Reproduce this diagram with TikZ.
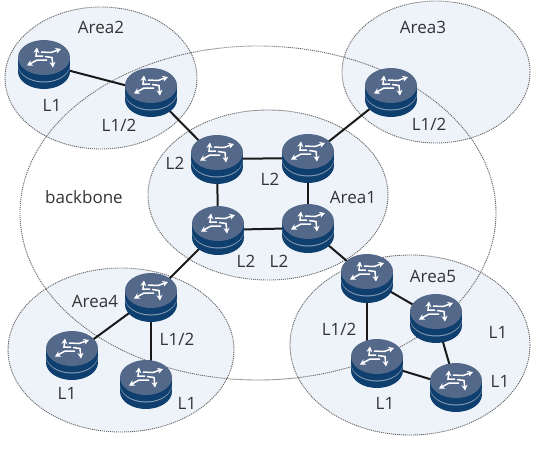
\documentclass[tikz,border=0pt]{standalone}
\usepackage{fontspec}
\setmainfont{Open Sans}
\usetikzlibrary{arrows.meta}
\definecolor{areafill}{HTML}{EEF3FA}
\definecolor{dots}{HTML}{666666}
\definecolor{rtop}{HTML}{54698A}
\definecolor{rbody}{HTML}{0F3F6E}
\definecolor{rband}{HTML}{8FA3BA}
\definecolor{txt}{HTML}{333333}
\tikzset{
  area/.style={draw=dots,line width=0.9pt,dash pattern=on 1.1pt off 0.9pt,fill=areafill},
  bb/.style={draw=dots,line width=0.9pt,dash pattern=on 1.1pt off 0.9pt},
  link/.style={draw=black!90,line width=2pt},
  lab/.style={text=txt,font=\fontsize{17pt}{20pt}\selectfont,inner sep=0pt},
  arr/.style={draw=white,line width=1.5pt,-{Stealth[length=5.5pt,width=6pt]}},
  router/.pic={
    \fill[rbody] (0,7.5) ellipse[x radius=26,y radius=17.5];
    \fill[rbody] (-26,-6.5) rectangle (26,7.5);
    \fill[rband] (0,1) ellipse[x radius=26,y radius=17.5];
    \fill[rbody] (-26,-6.5) rectangle (26,0);
    \fill[rbody] (0,0) ellipse[x radius=26,y radius=17.5];
    \fill[rtop] (0,-6.5) ellipse[x radius=26,y radius=17.5];
    \begin{scope}[shift={(0,-6.5)}]
      \draw[arr] (-1,-1.5) -- (-8,-1.5) -- (-7,-10);
      \draw[arr] (-3,-5.5) -- (7,-5) -- (17,-8.5);
      \draw[arr] (3,2.5) -- (-7,2.5) -- (-17,8);
      \draw[arr] (1,-1) -- (8,0) -- (9,10);
    \end{scope}
  }
}
\begin{document}
\begin{tikzpicture}[x=1pt,y=-1pt]
\useasboundingbox (0,0) rectangle (548,450);
\fill[white] (0,0) rectangle (548,450);
\path[area] (101,78) ellipse[x radius=96,y radius=71];
\path[area] (436,72) ellipse[x radius=94,y radius=71];
\path[area] (121,350) ellipse[x radius=113,y radius=82];
\path[area] (410,345) ellipse[x radius=120,y radius=90];
\path[area] (268,195) ellipse[x radius=120,y radius=85];
\path[bb] (258,213) ellipse[x radius=238,y radius=167];
\coordinate (a2a) at (44,64);
\coordinate (a2b) at (151,92);
\coordinate (tl) at (217,159);
\coordinate (tr) at (308,158);
\coordinate (bl) at (218,230);
\coordinate (br) at (308,228);
\coordinate (a3) at (391,92);
\coordinate (a4t) at (151,297);
\coordinate (a4l) at (72,355);
\coordinate (a4r) at (146,384);
\coordinate (a5t) at (367,278);
\coordinate (a5r) at (436,318);
\coordinate (a5l) at (377,363);
\coordinate (a5b) at (456,387);
\foreach \p/\q in {a2a/a2b,a2b/tl,tl/tr,tl/bl,tr/br,bl/br,tr/a3,bl/a4t,br/a5t,a4t/a4l,a5t/a5r,a5r/a5b,a5l/a5b}
  \draw[link] (\p) -- (\q);
\draw[link] (a4t) -- (a4t |- a4r);
\draw[link] (a5t) -- (a5t |- a5l);
\foreach \p in {a2a,a2b,tl,tr,bl,br,a3,a4t,a4l,a4r,a5t,a5r,a5l,a5b}
  \pic at (\p) {router};
\node[lab] (t1) at (101,27) {Area2};
\node[lab] (t2) at (52,105) {L1};
\node[lab] (t3) at (119,125) {L1/2};
\node[lab] (t4) at (423,27) {Area3};
\node[lab] (t5) at (429,124) {L1/2};
\node[lab] (t6) at (175,163) {L2};
\node[lab] (t7) at (270,179) {L2};
\node[lab] (t8) at (353,197) {Area1};
\node[lab] (t9) at (84,197) {backbone};
\node[lab] (t10) at (246,261) {L2};
\node[lab] (t11) at (279,261) {L2};
\node[lab] (t12) at (433,276) {Area5};
\node[lab] (t13) at (339,329) {L1/2};
\node[lab] (t14) at (498,332) {L1};
\node[lab] (t15) at (500,381) {L1};
\node[lab] (t16) at (385,403) {L1};
\node[lab] (t17) at (95,301) {Area4};
\node[lab] (t18) at (177,339) {L1/2};
\node[lab] (t19) at (67,393) {L1};
\node[lab] (t20) at (187,403) {L1};
\end{tikzpicture}
\end{document}
